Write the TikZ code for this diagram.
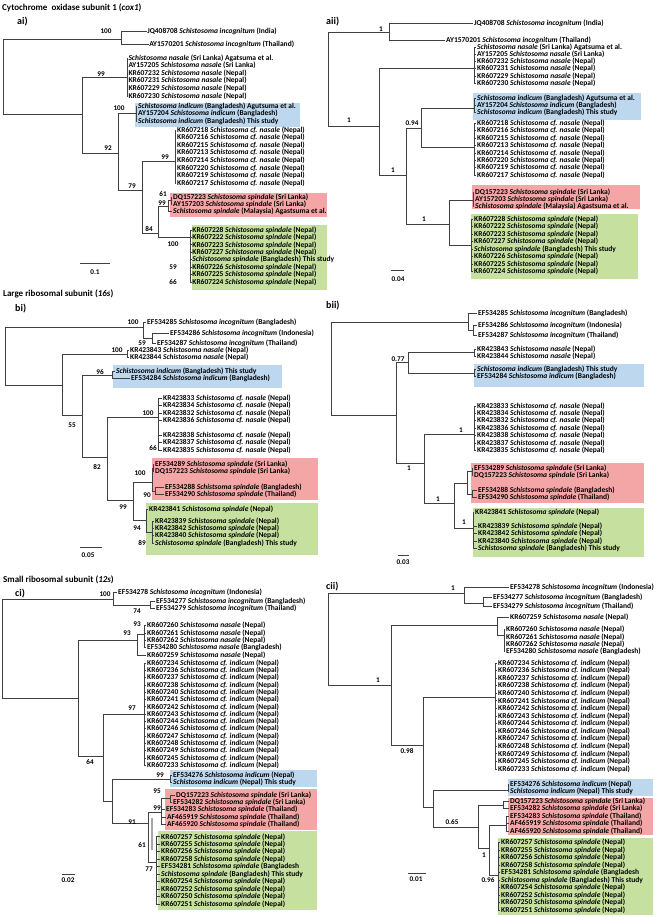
\documentclass[tikz,border=0pt]{standalone}
\usepackage{fontspec}
\setmainfont{Carlito}
\definecolor{boxblue}{HTML}{BDD7EE}
\definecolor{boxred}{HTML}{F4A6A6}
\definecolor{boxgreen}{HTML}{C6E0A0}
\definecolor{brc}{HTML}{404040}
\newcommand{\Sc}[1]{\textit{Schistosoma #1}}
\newcommand{\Leaf}[5]{\node[lbl] (#2) at (#3,#4) {#5}; \draw[brn] (#1) |- (#2.west);}
\newcommand{\Inode}[4]{\coordinate (#2) at (#3,#4); \draw[brn] (#1) |- (#2);}
\tikzset{
 lbl/.style={anchor=west,inner sep=0.6pt,font=\bfseries\fontsize{7.5}{8}\selectfont},
 bsv/.style={inner sep=0pt,font=\bfseries\fontsize{7.2}{8}\selectfont},
 brn/.style={draw=brc,line width=0.75pt},
 ttl/.style={anchor=west,inner sep=0pt,font=\fontsize{9}{10}\selectfont\bfseries},
 pnl/.style={anchor=west,inner sep=0pt,font=\fontsize{10}{11}\selectfont\bfseries},
}
\begin{document}
\begin{tikzpicture}[x=1pt,y=-1pt]
\useasboundingbox (0,0) rectangle (656,917);
% ================= titles
\node[ttl] (tA) at (2,8) {Cytochrome\ \ oxidase subunit 1 (\textit{cox1})};
\node[pnl] (pai) at (17,22) {ai)};
\node[pnl] (paii) at (326,22) {aii)};
\node[ttl] (tB) at (3,294) {Large ribosomal subunit (\textit{16s})};
\node[pnl] (pbi) at (15,309) {bi)};
\node[pnl] (pbii) at (326,306) {bii)};
\node[ttl] (tC) at (3,580) {Small ribosomal subunit (\textit{12s})};
\node[pnl] (pci) at (15,594) {ci)};
\node[pnl] (pcii) at (326,587) {cii)};
% ================= boxes
\fill[boxblue] (135,103) rectangle (300,127);
\fill[boxred] (170,193) rectangle (327,217);
\fill[boxgreen] (192,225) rectangle (327,290);
\fill[boxblue] (473,93) rectangle (641,120);
\fill[boxred] (472,185) rectangle (640,209);
\fill[boxgreen] (471,214) rectangle (638,279);
\fill[boxblue] (113,365) rectangle (282,388);
\fill[boxred] (152,458) rectangle (318,500);
\fill[boxgreen] (146,503) rectangle (318,555);
\fill[boxblue] (474,364) rectangle (644,387);
\fill[boxred] (471,463) rectangle (644,503);
\fill[boxgreen] (473,508) rectangle (644,557);
\fill[boxblue] (170,770) rectangle (317,787);
\fill[boxred] (165,789) rectangle (317,830);
\fill[boxgreen] (158,831) rectangle (317,910);
\fill[boxblue] (508,779) rectangle (653,796);
\fill[boxred] (508,798) rectangle (653,835);
\fill[boxgreen] (498,838) rectangle (653,915);
% ================= panel ai
\coordinate (ai-r) at (3,76);
\Inode{ai-r}{ai-i}{121}{39}
\Leaf{ai-i}{ai-l1}{146.5}{31}{JQ408708 \Sc{incognitum} (India)}
\Leaf{ai-i}{ai-l2}{148.5}{44}{AY1570201 \Sc{incognitum} (Thailand)}
\Inode{ai-r}{ai-n82}{82}{114}
\Inode{ai-n82}{ai-nas}{127}{77}
\Leaf{ai-nas}{ai-l3}{127.7}{58}{\Sc{nasale} (Sri Lanka) Agatsuma et al.}
\Leaf{ai-nas}{ai-l4}{127.7}{65.6}{AY157205 \Sc{nasale} (Sri Lanka)}
\foreach \id [count=\i from 0] in {232,231,229,230} {\Leaf{ai-nas}{ai-nk\i}{127.7}{73.2+\i*7.6}{KR607\id{} \Sc{nasale} (Nepal)}}
\Inode{ai-n82}{ai-n118}{118}{153}
\Inode{ai-n118}{ai-ind}{136}{113}
\Leaf{ai-ind}{ai-l5}{137.4}{106.5}{\Sc{indicum} (Bangladesh) Agutsuma et al.}
\Leaf{ai-ind}{ai-l6}{137.4}{113.8}{AY157204 \Sc{indicum} (Bangladesh)}
\Leaf{ai-ind}{ai-l7}{137.4}{121}{\Sc{indicum} (Bangladesh) This study}
\Inode{ai-n118}{ai-n142}{142}{190}
\Inode{ai-n142}{ai-cf}{175}{161}
\foreach \id [count=\i from 0] in {218,216,215,213,214,220,219,217} {\Leaf{ai-cf}{ai-cf\i}{176.4}{130+\i*7.6}{KR607\id{} \Sc{cf. nasale} (Nepal)}}
\Inode{ai-n142}{ai-n158}{158}{233}
\Inode{ai-n158}{ai-r99}{168}{206}
\Inode{ai-r99}{ai-r61}{171}{200.5}
\Leaf{ai-r61}{ai-l8}{172.4}{197}{DQ157223 \Sc{spindale} (Sri Lanka)}
\Leaf{ai-r61}{ai-l9}{172.4}{204}{AY157203 \Sc{spindale} (Sri Lanka)}
\Leaf{ai-r99}{ai-l10}{172.4}{211.5}{\Sc{spindale} (Malaysia) Agastsuma et al.}
\Inode{ai-n158}{ai-gr}{190}{237}
\foreach \t [count=\i from 0] in {{KR607228 \Sc{spindale} (Nepal)},{KR607222 \Sc{spindale} (Nepal)},{KR607223 \Sc{spindale} (Nepal)},{KR607227 \Sc{spindale} (Nepal)},{\Sc{spindale} (Bangladesh) This study},{KR607226 \Sc{spindale} (Nepal)},{KR607225 \Sc{spindale} (Nepal)},{KR607224 \Sc{spindale} (Nepal)}} {\Leaf{ai-gr}{ai-g\i}{191.6}{230+\i*7.43}{\t}}
\node[bsv] (ai-b1) at (106,31) {100};
\node[bsv] (ai-b2) at (101,74) {99};
\node[bsv] (ai-b3) at (119,108) {100};
\node[bsv] (ai-b4) at (108,148) {92};
\node[bsv] (ai-b5) at (165,157) {99};
\node[bsv] (ai-b6) at (132,186) {79};
\node[bsv] (ai-b7) at (163,194) {61};
\node[bsv] (ai-b8) at (162,203) {99};
\node[bsv] (ai-b9) at (149,229) {84};
\node[bsv] (ai-b10) at (173,244) {100};
\node[bsv] (ai-b11) at (173,267) {59};
\node[bsv] (ai-b12) at (173,282) {66};
\coordinate (ai-s1) at (80,263); \coordinate (ai-s2) at (110,263);
\draw[brn] (ai-s1) -- (ai-s2);
\node[bsv] (ai-sl) at (95,272) {0.1};
% ================= panel aii
\coordinate (aii-r) at (328,79);
\Inode{aii-r}{aii-i}{389}{32}
\Leaf{aii-i}{aii-l1}{473.4}{23}{JQ408708 \Sc{incognitum} (India)}
\Leaf{aii-i}{aii-l2}{445.4}{40}{AY1570201 \Sc{incognitum} (Thailand)}
\Inode{aii-r}{aii-n379}{379}{126}
\Inode{aii-n379}{aii-nas}{474}{68}
\Leaf{aii-nas}{aii-l3}{476.4}{47}{\Sc{nasale} (Sri Lanka) Agatsuma et al.}
\Leaf{aii-nas}{aii-l4}{476.4}{54.2}{AY157205 \Sc{nasale} (Sri Lanka)}
\foreach \id [count=\i from 0] in {232,231,229,230} {\Leaf{aii-nas}{aii-nk\i}{476.4}{61.4+\i*7.4}{KR607\id{} \Sc{nasale} (Nepal)}}
\Inode{aii-n379}{aii-n406}{406}{175}
\Inode{aii-n406}{aii-n421}{421}{128}
\Inode{aii-n421}{aii-ind}{474}{108}
\Leaf{aii-ind}{aii-l5}{476.4}{98}{\Sc{indicum} (Bangladesh) Agutsuma et al.}
\Leaf{aii-ind}{aii-l6}{476.4}{105.3}{AY157204 \Sc{indicum} (Bangladesh)}
\Leaf{aii-ind}{aii-l7}{476.4}{112.6}{\Sc{indicum} (Bangladesh) This study}
\Inode{aii-n421}{aii-cf}{474}{147}
\foreach \id [count=\i from 0] in {218,216,215,213,214,220,219,217} {\Leaf{aii-cf}{aii-cf\i}{476.4}{123.3+\i*7.4}{KR607\id{} \Sc{cf. nasale} (Nepal)}}
\Inode{aii-n406}{aii-n449}{449}{224}
\Inode{aii-n449}{aii-red}{473}{200}
\Leaf{aii-red}{aii-l8}{474.4}{192}{DQ157223 \Sc{spindale} (Sri Lanka)}
\Leaf{aii-red}{aii-l9}{474.4}{199.4}{AY157203 \Sc{spindale} (Sri Lanka)}
\Leaf{aii-red}{aii-l10}{474.4}{206.8}{\Sc{spindale} (Malaysia) Agastsuma et al.}
\Inode{aii-n449}{aii-gr}{471}{245}
\foreach \t [count=\i from 0] in {{KR607228 \Sc{spindale} (Nepal)},{KR607222 \Sc{spindale} (Nepal)},{KR607223 \Sc{spindale} (Nepal)},{KR607227 \Sc{spindale} (Nepal)},{\Sc{spindale} (Bangladesh) This study},{KR607226 \Sc{spindale} (Nepal)},{KR607225 \Sc{spindale} (Nepal)},{KR607224 \Sc{spindale} (Nepal)}} {\Leaf{aii-gr}{aii-g\i}{473.4}{219+\i*7.5}{\t}}
\node[bsv] (aii-b1) at (381,29) {1};
\node[bsv] (aii-b2) at (349,120) {1};
\node[bsv] (aii-b3) at (412,123) {0.94};
\node[bsv] (aii-b4) at (393,170) {1};
\node[bsv] (aii-b5) at (424,219) {1};
\coordinate (aii-s1) at (391,270); \coordinate (aii-s2) at (404,270);
\draw[brn] (aii-s1) -- (aii-s2);
\node[bsv] (aii-sl) at (398,279) {0.04};
% ================= panel bi
\coordinate (bi-r) at (5,356);
\Inode{bi-r}{bi-i}{143}{327}
\Leaf{bi-i}{bi-l1}{146.4}{322}{EF534285 \Sc{incognitum} (Bangladesh)}
\Inode{bi-i}{bi-ib}{152}{338}
\Leaf{bi-ib}{bi-l2}{169.4}{333}{EF534286 \Sc{incognitum} (Indonesia)}
\Leaf{bi-ib}{bi-l3}{156.4}{343}{EF534287 \Sc{incognitum} (Thailand)}
\Inode{bi-r}{bi-n62}{62}{385}
\Inode{bi-n62}{bi-nas}{127}{354}
\Leaf{bi-nas}{bi-l4}{129.4}{350}{KR423843 \Sc{nasale} (Nepal)}
\Leaf{bi-nas}{bi-l5}{129.4}{357.3}{KR423844 \Sc{nasale} (Nepal)}
\Inode{bi-n62}{bi-n82}{82}{415}
\Inode{bi-n82}{bi-ind}{112}{375}
\Leaf{bi-ind}{bi-l6}{115.4}{371}{\Sc{indicum} (Bangladesh) This study}
\Leaf{bi-ind}{bi-l7}{130.4}{378.3}{EF534284 \Sc{indicum} (Bangladesh)}
\Inode{bi-n82}{bi-n107}{107}{457}
\Inode{bi-n107}{bi-cf}{158}{417}
\foreach \id [count=\i from 0] in {833,834,832,836} {\Leaf{bi-cf}{bi-cfa\i}{162.4}{398+\i*7.5}{KR423\id{} \Sc{cf. nasale} (Nepal)}}
\foreach \id [count=\i from 0] in {838,837,835} {\Leaf{bi-cf}{bi-cfb\i}{162.4}{435+\i*7.5}{KR423\id{} \Sc{cf. nasale} (Nepal)}}
\Inode{bi-n107}{bi-n133}{133}{500}
\Inode{bi-n133}{bi-red}{152}{482}
\Inode{bi-red}{bi-rp1}{153}{468}
\Leaf{bi-rp1}{bi-l8}{154.4}{464}{EF534289 \Sc{spindale} (Sri Lanka)}
\Leaf{bi-rp1}{bi-l9}{154.4}{471.5}{DQ157223 \Sc{spindale} (Sri Lanka)}
\Inode{bi-red}{bi-rp2}{155}{491}
\Leaf{bi-rp2}{bi-l10}{164.4}{487}{EF534288 \textit{Schistsoma spindale} (Bangladesh)}
\Leaf{bi-rp2}{bi-l11}{164.4}{494.5}{EF534290 \Sc{spindale} (Thailand)}
\Inode{bi-n133}{bi-gn}{146}{520}
\Leaf{bi-gn}{bi-l12}{148.4}{509}{KR423841 \Sc{spindale} (Nepal)}
\Inode{bi-gn}{bi-gb}{152}{532}
\Leaf{bi-gb}{bi-l13}{154.4}{521}{KR423839 \Sc{spindale} (Nepal)}
\Leaf{bi-gb}{bi-l14}{154.4}{528.3}{KR423842 \Sc{spindale} (Nepal)}
\Leaf{bi-gb}{bi-l15}{154.4}{535.6}{KR423840 \Sc{spindale} (Nepal)}
\Leaf{bi-gb}{bi-l16}{154.4}{543}{\Sc{spindale} (Bangladesh) This study}
\node[bsv] (bi-b1) at (133,322) {100};
\node[bsv] (bi-b2) at (142,343) {59};
\node[bsv] (bi-b3) at (117,350) {100};
\node[bsv] (bi-b4) at (100,372) {96};
\node[bsv] (bi-b5) at (72,425) {55};
\node[bsv] (bi-b6) at (148,413) {100};
\node[bsv] (bi-b7) at (153,448) {66};
\node[bsv] (bi-b8) at (97,467) {82};
\node[bsv] (bi-b9) at (140,473) {100};
\node[bsv] (bi-b10) at (147,495) {90};
\node[bsv] (bi-b11) at (123,507) {99};
\node[bsv] (bi-b12) at (137,528) {94};
\node[bsv] (bi-b13) at (142,543) {89};
\coordinate (bi-s1) at (80,547); \coordinate (bi-s2) at (102,547);
\draw[brn] (bi-s1) -- (bi-s2);
\node[bsv] (bi-sl) at (88,555) {0.05};
% ================= panel bii
\coordinate (bii-r) at (331,368);
\Inode{bii-r}{bii-i}{468}{322}
\Leaf{bii-i}{bii-l1}{477.4}{313}{EF534285 \Sc{incognitum} (Bangladesh)}
\Inode{bii-i}{bii-ib}{473}{330}
\Leaf{bii-ib}{bii-l2}{477.4}{325.3}{EF534286 \Sc{incognitum} (Indonesia)}
\Leaf{bii-ib}{bii-l3}{477.4}{335.3}{EF534287 \Sc{incognitum} (Thailand)}
\Inode{bii-r}{bii-n396}{396}{415}
\Inode{bii-n396}{bii-n408}{408}{362}
\Inode{bii-n408}{bii-nas}{474}{352}
\Leaf{bii-nas}{bii-l4}{476.4}{349}{KR423843 \Sc{nasale} (Nepal)}
\Leaf{bii-nas}{bii-l5}{476.4}{356.3}{KR423844 \Sc{nasale} (Nepal)}
\Inode{bii-n408}{bii-ind}{474}{373}
\Leaf{bii-ind}{bii-l6}{476.4}{369}{\Sc{indicum} (Bangladesh) This study}
\Leaf{bii-ind}{bii-l7}{476.4}{376.5}{EF534284 \Sc{indicum} (Bangladesh)}
\Inode{bii-n396}{bii-n424}{424}{463}
\Inode{bii-n424}{bii-cf}{474}{434}
\foreach \id [count=\i from 0] in {833,834,832,836,838,837,835} {\Leaf{bii-cf}{bii-cf\i}{476.4}{406+\i*7.4}{KR423\id{} \Sc{cf. nasale} (Nepal)}}
\Inode{bii-n424}{bii-n454}{454}{503}
\Inode{bii-n454}{bii-red}{467}{483}
\Inode{bii-red}{bii-rp1}{472}{471.5}
\Leaf{bii-rp1}{bii-l8}{473.4}{468}{EF534289 \Sc{spindale} (Sri Lanka)}
\Leaf{bii-rp1}{bii-l9}{473.4}{475.3}{DQ157223 \Sc{spindale} (Sri Lanka)}
\Inode{bii-red}{bii-rp2}{472}{494}
\Leaf{bii-rp2}{bii-l10}{477.4}{490}{EF534288 \textit{Schistsoma spindale} (Bangladesh)}
\Leaf{bii-rp2}{bii-l11}{477.4}{497.6}{EF534290 \Sc{spindale} (Thailand)}
\Inode{bii-n454}{bii-gn}{473}{528}
\Leaf{bii-gn}{bii-l12}{474.4}{512}{KR423841 \Sc{spindale} (Nepal)}
\Leaf{bii-gn}{bii-l13}{477.4}{526}{KR423839 \Sc{spindale} (Nepal)}
\Leaf{bii-gn}{bii-l14}{477.4}{533.5}{KR423842 \Sc{spindale} (Nepal)}
\Leaf{bii-gn}{bii-l15}{477.4}{541}{KR423840 \Sc{spindale} (Nepal)}
\Leaf{bii-gn}{bii-l16}{477.4}{548.6}{\Sc{spindale} (Bangladesh) This study}
\node[bsv] (bii-b1) at (398,359) {0.77};
\node[bsv] (bii-b2) at (461,430) {1};
\node[bsv] (bii-b3) at (409,468) {1};
\node[bsv] (bii-b4) at (438,499) {1};
\node[bsv] (bii-b5) at (464,522) {1};
\coordinate (bii-s1) at (398,555); \coordinate (bii-s2) at (409,555);
\draw[brn] (bii-s1) -- (bii-s2);
\node[bsv] (bii-sl) at (403,562) {0.03};
% ================= panel ci
\coordinate (ci-r) at (2,648);
\Inode{ci-r}{ci-i}{113}{599}
\Leaf{ci-i}{ci-l1}{117.4}{592}{EF534278 \Sc{incognitum} (Indonesia)}
\Inode{ci-i}{ci-ib}{150}{605}
\Leaf{ci-ib}{ci-l2}{155.4}{601.7}{EF534277 \Sc{incognitum} (Bangladesh)}
\Leaf{ci-ib}{ci-l3}{155.4}{608.5}{EF534279 \Sc{incognitum} (Thailand)}
\Inode{ci-r}{ci-n78}{78}{698}
\Inode{ci-n78}{ci-n137}{137}{640}
\Inode{ci-n137}{ci-nas}{144}{634}
\Leaf{ci-nas}{ci-l4}{146.4}{625.5}{KR607260 \Sc{nasale} (Nepal)}
\Leaf{ci-nas}{ci-l5}{146.4}{632.9}{KR607261 \Sc{nasale} (Nepal)}
\Leaf{ci-nas}{ci-l6}{146.4}{640.3}{KR607262 \Sc{nasale} (Nepal)}
\Leaf{ci-nas}{ci-l7}{146.4}{647.7}{EF534280 \Sc{nasale} (Bangladesh)}
\Leaf{ci-n137}{ci-l8}{146.4}{655.1}{KR607259 \Sc{nasale} (Nepal)}
\Inode{ci-n78}{ci-n103}{103}{756}
\Inode{ci-n103}{ci-cf}{144}{714}
\foreach \id [count=\i from 0] in {234,236,237,238,240,241,242,243,244,246,247,248,249,245,233} {\Leaf{ci-cf}{ci-cf\i}{146.4}{663+\i*7.3}{KR607\id{} \Sc{cf. indicum} (Nepal)}}
\Inode{ci-n103}{ci-n112}{112}{801}
\Inode{ci-n112}{ci-ind}{170}{779}
\Leaf{ci-ind}{ci-l9}{172.4}{775}{EF534276 \Sc{indicum} (Nepal)}
\Leaf{ci-ind}{ci-l10}{172.4}{782.4}{\Sc{indicum} (Nepal) This study}
\Inode{ci-n112}{ci-n148}{148}{823}
\Inode{ci-n148}{ci-r99}{161}{812}
\Inode{ci-r99}{ci-p95}{170}{798.5}
\Leaf{ci-p95}{ci-l11}{175.4}{795}{DQ157223 \Sc{spindale} (Sri Lanka)}
\Leaf{ci-p95}{ci-l12}{172.4}{802.3}{EF534282 \Sc{spindale} (Sri Lanka)}
\Leaf{ci-r99}{ci-l13}{165.4}{809.7}{EF534283 \Sc{spindale} (Thailand)}
\Leaf{ci-r99}{ci-l14}{166.4}{817}{AF465919 \Sc{spindale} (Thailand)}
\Leaf{ci-r99}{ci-l15}{166.4}{824.4}{AF465920 \Sc{spindale} (Thailand)}
\Inode{ci-n148}{ci-gr}{156}{862}
\foreach \t [count=\i from 0] in {{KR607257 \Sc{spindale} (Nepal)},{KR607255 \Sc{spindale} (Nepal)},{KR607256 \Sc{spindale} (Nepal)},{KR607258 \Sc{spindale} (Nepal)},{EF534281 \Sc{spindale} (Bangladesh},{\Sc{spindale} (Bangladesh) This study},{KR607254 \Sc{spindale} (Nepal)},{KR607252 \Sc{spindale} (Nepal)},{KR607250 \Sc{spindale} (Nepal)},{KR607251 \Sc{spindale} (Nepal)}} {\Leaf{ci-gr}{ci-g\i}{160.4}{836.8+\i*7.47}{\t}}
\coordinate (ci-t1) at (152,818); \coordinate (ci-t2) at (152,850);
\draw[gray!70,line width=1.5pt] (ci-t1) -- (ci-t2);
\node[bsv] (ci-b1) at (105,594) {100};
\node[bsv] (ci-b2) at (137,611) {74};
\node[bsv] (ci-b3) at (137,624) {93};
\node[bsv] (ci-b4) at (127,633) {93};
\node[bsv] (ci-b5) at (132,708) {97};
\node[bsv] (ci-b6) at (90,762) {64};
\node[bsv] (ci-b7) at (160,775.5) {99};
\node[bsv] (ci-b8) at (157,791) {95};
\node[bsv] (ci-b9) at (157,808) {99};
\node[bsv] (ci-b10) at (132,822) {91};
\node[bsv] (ci-b11) at (142,845) {61};
\node[bsv] (ci-b12) at (149,869) {77};
\coordinate (ci-s1) at (62,874); \coordinate (ci-s2) at (75,874);
\draw[brn] (ci-s1) -- (ci-s2);
\node[bsv] (ci-sl) at (68,880) {0.02};
% ================= panel cii
\coordinate (cii-r) at (328,639);
\Inode{cii-r}{cii-i}{464}{593}
\Leaf{cii-i}{cii-l1}{509.4}{587}{EF534278 \Sc{incognitum} (Indonesia)}
\Inode{cii-i}{cii-ib}{483}{603}
\Leaf{cii-ib}{cii-l2}{492.4}{597}{EF534277 \Sc{incognitum} (Bangladesh)}
\Leaf{cii-ib}{cii-l3}{492.4}{606}{EF534279 \Sc{incognitum} (Thailand)}
\Inode{cii-r}{cii-n391}{391}{685}
\Inode{cii-n391}{cii-n497}{497}{625}
\Leaf{cii-n497}{cii-l4}{509.4}{617}{KR607259 \Sc{nasale} (Nepal)}
\Inode{cii-n497}{cii-nas}{504}{635}
\Leaf{cii-nas}{cii-l5}{505.4}{629.3}{KR607260 \Sc{nasale} (Nepal)}
\Leaf{cii-nas}{cii-l6}{505.4}{636.8}{KR607261 \Sc{nasale} (Nepal)}
\Leaf{cii-nas}{cii-l7}{505.4}{644.3}{KR607262 \Sc{nasale} (Nepal)}
\Leaf{cii-nas}{cii-l8}{505.4}{651.8}{EF534280 \Sc{nasale} (Bangladesh)}
\Inode{cii-n391}{cii-n423}{423}{745}
\Inode{cii-n423}{cii-cf}{495}{697}
\foreach \id [count=\i from 0] in {234,236,237,238,240,241,242,243,244,246,247,248,249,245,233} {\Leaf{cii-cf}{cii-cf\i}{497.4}{663+\i*7.57}{KR607\id{} \Sc{cf. indicum} (Nepal)}}
\Inode{cii-n423}{cii-n433}{433}{807}
\Inode{cii-n433}{cii-ind}{508}{790}
\Leaf{cii-ind}{cii-l9}{509.4}{784.3}{EF534276 \Sc{indicum} (Nepal)}
\Leaf{cii-ind}{cii-l10}{509.4}{791.7}{\Sc{indicum} (Nepal) This study}
\Inode{cii-n433}{cii-n478}{478}{827}
\Inode{cii-n478}{cii-rp}{503}{805}
\Leaf{cii-rp}{cii-l11}{509.4}{801.7}{DQ157223 \Sc{spindale} (Sri Lanka)}
\Leaf{cii-rp}{cii-l12}{509.4}{808.7}{EF534282 \Sc{spindale} (Sri Lanka)}
\Inode{cii-n478}{cii-n489}{489}{848}
\Inode{cii-n489}{cii-rt}{506}{825}
\Leaf{cii-rt}{cii-l13}{509.4}{816}{EF534283 \Sc{spindale} (Thailand)}
\Leaf{cii-rt}{cii-l14}{509.4}{823.4}{AF465919 \Sc{spindale} (Thailand)}
\Leaf{cii-rt}{cii-l15}{509.4}{831}{AF465920 \Sc{spindale} (Thailand)}
\Inode{cii-n489}{cii-gr}{498}{875}
\foreach \t [count=\i from 0] in {{KR607257 \Sc{spindale} (Nepal)},{KR607255 \Sc{spindale} (Nepal)},{KR607256 \Sc{spindale} (Nepal)},{KR607258 \Sc{spindale} (Nepal)},{EF534281 \Sc{spindale} (Bangladesh},{\Sc{spindale} (Bangladesh) This study},{KR607254 \Sc{spindale} (Nepal)},{KR607252 \Sc{spindale} (Nepal)},{KR607250 \Sc{spindale} (Nepal)},{KR607251 \Sc{spindale} (Nepal)}} {\Leaf{cii-gr}{cii-g\i}{500.4}{842.7+\i*7.47}{\t}}
\node[bsv] (cii-b1) at (453,588) {1};
\node[bsv] (cii-b2) at (378,680) {1};
\node[bsv] (cii-b3) at (407,751) {0.98};
\node[bsv] (cii-b4) at (452,822) {0.65};
\node[bsv] (cii-b5) at (484,855) {1};
\node[bsv] (cii-b6) at (488,880) {0.96};
\coordinate (cii-s1) at (408,873); \coordinate (cii-s2) at (426,873);
\draw[brn] (cii-s1) -- (cii-s2);
\node[bsv] (cii-sl) at (416,879) {0.01};
\end{tikzpicture}
\end{document}
